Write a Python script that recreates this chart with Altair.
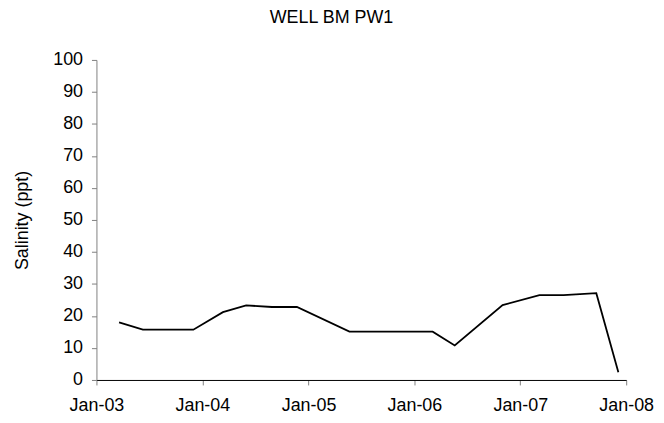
import altair as alt
import pandas as pd

# Data
dates = [
    "2003-03-20", "2003-06-10", "2003-12-01", "2004-03-12", "2004-05-31",
    "2004-08-28", "2004-11-22", "2005-05-22", "2006-03-05", "2006-05-20",
    "2006-11-01", "2007-03-08", "2007-05-30", "2007-09-20", "2007-12-05",
]
salinity = [18.0, 15.7, 15.7, 21.2, 23.3, 22.8, 22.8, 15.1, 15.1, 10.8,
            23.4, 26.5, 26.5, 27.1, 2.4]
years = [2003, 2004, 2005, 2006, 2007, 2008]
y_ticks = list(range(0, 101, 10))

df = pd.DataFrame({"date": dates, "salinity": salinity})

FONT = "Liberation Sans"

x_ticks = [alt.DateTime(year=y, month=1, date=1, utc=True) for y in years]

chart = (
    alt.Chart(df)
    .mark_line(color="black", strokeWidth=1.8)
    .encode(
        x=alt.X(
            "date:T",
            scale=alt.Scale(
                type="utc",
                domain=[x_ticks[0], x_ticks[-1]],
                nice=False,
            ),
            axis=alt.Axis(
                values=x_ticks,
                labelExpr="utcFormat(datum.value, '%b-%y')",
                title=None,
                grid=False,
                labelFlush=False,
                labelOverlap=False,
                domainColor="black",
                tickColor="#808080",
                tickSize=5,
                labelPadding=12,
                labelFont=FONT,
                labelFontSize=18,
                labelColor="black",
            ),
        ),
        y=alt.Y(
            "salinity:Q",
            scale=alt.Scale(domain=[0, 100], nice=False),
            axis=alt.Axis(
                values=y_ticks,
                title="Salinity (ppt)",
                grid=False,
                domainColor="#808080",
                tickColor="#808080",
                tickSize=5,
                labelPadding=9,
                labelFont=FONT,
                labelFontSize=18,
                labelColor="black",
                titleFont=FONT,
                titleFontSize=18,
                titleFontWeight="normal",
                titleColor="black",
                titleAngle=-90,
                titleX=-74,
                titleY=161,
                titleBaseline="middle",
                titleAlign="center",
            ),
        ),
    )
    .properties(
        width=533,
        height=322,
        title=alt.TitleParams(
            "WELL BM PW1",
            font=FONT,
            fontSize=18,
            fontWeight="normal",
            color="black",
            anchor="middle",
            dx=-30,
            offset=24,
        ),
        autosize=alt.AutoSizeParams(type="none"),
        padding={"left": 89, "top": 51, "right": 30, "bottom": 33},
    )
    .configure_view(stroke=None)
)

chart.save("out.html", embed_options={"renderer": "svg", "actions": False})
